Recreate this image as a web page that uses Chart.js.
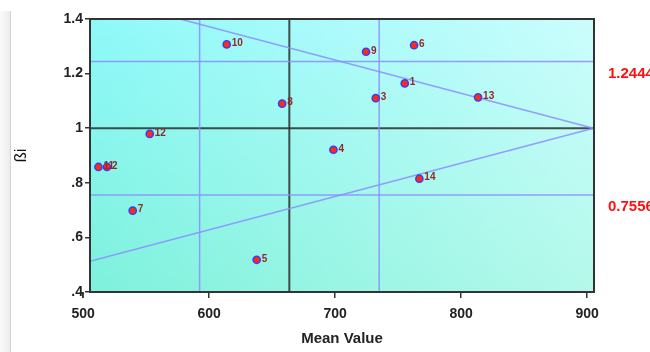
<!DOCTYPE html>
<html>
<head>
<meta charset="utf-8">
<script src="https://cdn.jsdelivr.net/npm/chart.js@4.4.0/dist/chart.umd.min.js"></script>
<style>
    html, body { margin: 0; padding: 0; background: #fff; }
    #wrap { position: relative; width: 650px; height: 352px; }
    #edge { position: absolute; left: 0; top: 11px; bottom: 0; width: 10px;
            background: linear-gradient(to right, #fbfbfb, #ececec); border-right: 1px solid #d4d4d4; }
    canvas { position: absolute; left: 0; top: 0; }
</style>
</head>
<body>
<div id="wrap">
    <div id="edge"></div>
    <canvas id="chart" width="650" height="352"></canvas>
</div>
<script>
// ── Data ───────────────────────────────────────────────────
const pointIds   = ["1", "2", "3", "4", "5", "6", "7", "8", "9", "10", "11", "12", "13", "14"];
const meanValues = [755.3, 519.0, 732.3, 698.7, 637.8, 762.7, 539.4, 658.0, 724.6, 614.0, 512.2, 552.9, 813.5, 766.9];
const betaValues = [1.164, 0.858, 1.110, 0.921, 0.518, 1.304, 0.698, 1.090, 1.280, 1.307, 0.858, 0.979, 1.113, 0.815];

const xRange = [505.5, 905.5];
const yRange = [0.4, 1.4];
const xTicks = [500, 600, 700, 800, 900];
const yTicks = [0.4, 0.6, 0.8, 1.0, 1.2, 1.4];
const yTickLabels = [".4", ".6", ".8", "1", "1.2", "1.4"];

// reference lines
const meanLines  = [592.5, 735.0];      // mean +/- sd (blue)
const grandMean  = 663.7;               // black vertical
const betaLimits = [1.2444, 0.7556];    // blue horizontals, labelled on the right
const betaCenter = 1.0;                 // black horizontal
const funnelX     = [505.5, 905.0];
const funnelUpper = [1.487, 1.0];
const funnelLower = [0.513, 1.0];

// ── Helpers ────────────────────────────────────────────────
const BLUE_LINE = "rgba(140,140,255,0.85)";
const DARK_LINE = "rgba(45,45,45,0.85)";

function segment(xs, ys, color, width) {
    return {
        type: "scatter",
        data: xs.map((x, i) => ({ x, y: ys[i] })),
        showLine: true,
        borderColor: color,
        borderWidth: width,
        pointRadius: 0,
        clip: 0,
        order: 2,
    };
}

const datasets = [];
meanLines.forEach((m) => datasets.push(segment([m, m], yRange, BLUE_LINE, 1.5)));
betaLimits.forEach((b) => datasets.push(segment(xRange, [b, b], BLUE_LINE, 1.5)));
datasets.push(segment(funnelX, funnelUpper, BLUE_LINE, 1.5));
datasets.push(segment(funnelX, funnelLower, BLUE_LINE, 1.5));
datasets.push(segment([grandMean, grandMean], yRange, DARK_LINE, 2));
datasets.push(segment(xRange, [betaCenter, betaCenter], DARK_LINE, 2));

const POINTS = datasets.length;
datasets.push({
    type: "scatter",
    data: meanValues.map((x, i) => ({ x, y: betaValues[i] })),
    backgroundColor: "#ff2a10",
    borderColor: "#3a3aff",
    borderWidth: 1.5,
    pointRadius: 3.6,
    order: 0,
});

// ── Plugins ────────────────────────────────────────────────
function mix(a, b, t) {
    return a.map((v, i) => Math.round(v + (b[i] - v) * t));
}

const background = {
    id: "background",
    beforeDraw(chart) {
        const { ctx, chartArea: a } = chart;
        const tl = [142, 249, 249], tr = [203, 253, 253];
        const bl = [126, 241, 220], br = [180, 249, 234];
        ctx.save();
        for (let y = a.top; y < a.bottom; y++) {
            const t = (y - a.top) / (a.bottom - a.top);
            const g = ctx.createLinearGradient(a.left, 0, a.right, 0);
            g.addColorStop(0, `rgb(${mix(tl, bl, t)})`);
            g.addColorStop(1, `rgb(${mix(tr, br, t)})`);
            ctx.fillStyle = g;
            ctx.fillRect(a.left, y, a.right - a.left, 1);
        }
        ctx.restore();
    },
};

const decorations = {
    id: "decorations",
    afterDatasetsDraw(chart) {
        const ctx = chart.ctx;
        const meta = chart.getDatasetMeta(POINTS);
        ctx.save();
        ctx.font = "bold 10px 'Liberation Sans', Arial, sans-serif";
        ctx.fillStyle = "#8e2a2a";
        ctx.textAlign = "left";
        ctx.textBaseline = "middle";
        meta.data.forEach((pt, i) => ctx.fillText(pointIds[i], pt.x + 5, pt.y - 1));
        ctx.restore();
    },
    afterDraw(chart) {
        const { ctx, chartArea: a, scales } = chart;
        ctx.save();
        // frame
        ctx.strokeStyle = "#333";
        ctx.lineWidth = 2;
        ctx.strokeRect(a.left, a.top, a.right - a.left, a.bottom - a.top);
        // tick mark for 500 sits outside the plot frame
        const x500 = scales.x.getPixelForValue(xTicks[0]);
        ctx.lineWidth = 1.5;
        ctx.beginPath();
        ctx.moveTo(x500, a.bottom);
        ctx.lineTo(x500, a.bottom + 6);
        ctx.stroke();
        // limit labels on the right
        ctx.font = "bold 15px 'Liberation Sans', Arial, sans-serif";
        ctx.fillStyle = "#ff1010";
        ctx.textAlign = "left";
        ctx.textBaseline = "middle";
        betaLimits.forEach((b) => {
            ctx.fillText(b.toFixed(4), a.right + 14, scales.y.getPixelForValue(b) + 12);
        });
        ctx.restore();
    },
};

// ── Chart ──────────────────────────────────────────────────
Chart.defaults.font.family = "'Liberation Sans', Arial, sans-serif";
Chart.defaults.color = "#222";

new Chart(document.getElementById("chart"), {
    type: "scatter",
    data: { datasets },
    options: {
        responsive: false,
        animation: false,
        layout: { padding: { left: 11, top: 19, right: 56, bottom: 4 } },
        plugins: { legend: { display: false }, tooltip: { enabled: false } },
        scales: {
            x: {
                type: "linear",
                min: xRange[0],
                max: xRange[1],
                afterBuildTicks: (s) => { s.ticks = xTicks.map((v) => ({ value: v })); },
                afterFit: (s) => { s.height = 56; },
                border: { display: false },
                grid: { drawOnChartArea: false, drawTicks: true, tickLength: 6, color: "#333", lineWidth: 1.5 },
                ticks: { autoSkip: false, maxRotation: 0, padding: 8, font: { size: 14, weight: "bold" } },
                title: { display: true, text: "Mean Value", color: "#222", padding: 0, font: { size: 15, weight: "bold" } },
            },
            y: {
                type: "linear",
                min: yRange[0],
                max: yRange[1],
                afterBuildTicks: (s) => { s.ticks = yTicks.map((v) => ({ value: v })); },
                afterFit: (s) => { s.width = 79; },
                border: { display: false },
                grid: { drawOnChartArea: false, drawTicks: true, tickLength: 5, color: "#333", lineWidth: 1.5 },
                ticks: {
                    autoSkip: false,
                    padding: 2,
                    font: { size: 14, weight: "bold" },
                    callback: (v, i) => yTickLabels[i],
                },
                title: { display: true, text: "ßi", color: "#111", padding: 0, font: { size: 17 } },
            },
        },
    },
    plugins: [background, decorations],
});
</script>
</body>
</html>
